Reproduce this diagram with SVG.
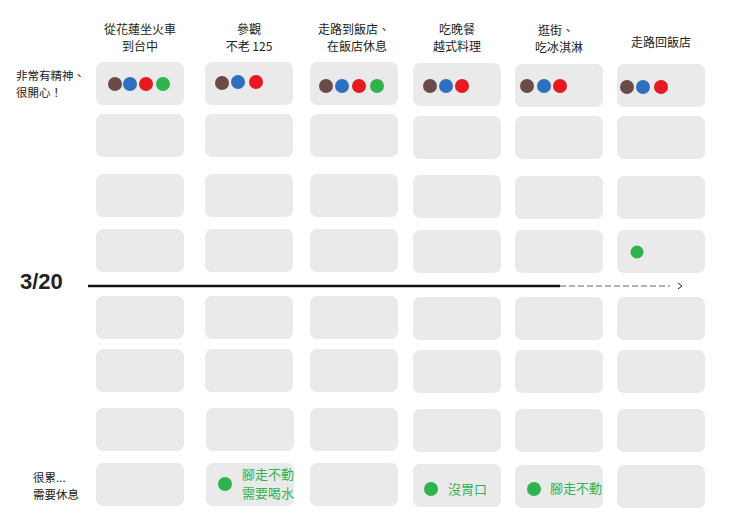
<svg xmlns="http://www.w3.org/2000/svg" width="740" height="523" viewBox="0 0 740 523">
<style>
text{font-family:"Noto Sans CJK TC","Noto Sans",sans-serif;fill:#222}
.h{font-size:12px;text-anchor:middle}
.l{font-size:11.5px}
.c{fill:#eaeaea;rx:7}
.g{fill:#2fb350;font-size:13px}
.br{fill:#6b4a4a}.bl{fill:#2f6fbf}.rd{fill:#e5191f}.gr{fill:#2fb350}
</style>
<rect width="740" height="523" fill="#fff"/>
<g id="headers">
<text class="h" x="140" y="34">從花蓮坐火車</text><text class="h" x="140" y="51">到台中</text>
<text class="h" x="249" y="34">參觀</text><text class="h" x="249" y="51">不老 125</text>
<text class="h" x="354" y="34">走路到飯店、</text><text class="h" x="357" y="51">在飯店休息</text>
<text class="h" x="457" y="34">吃晚餐</text><text class="h" x="457" y="51">越式料理</text>
<text class="h" x="556" y="35">逛街、</text><text class="h" x="559" y="52">吃冰淇淋</text>
<text class="h" x="661" y="47">走路回飯店</text>
<text class="l" x="16" y="80">非常有精神、</text><text class="l" x="16" y="97">很開心！</text>
<text class="l" x="33" y="482">很累...</text><text class="l" x="33" y="499">需要休息</text>
</g>
<g id="cells">
<rect class="c" x="96" y="62" width="88" height="43"/><rect class="c" x="205" y="62" width="88" height="43"/><rect class="c" x="310" y="62" width="88" height="43"/><rect class="c" x="413" y="63" width="88" height="43"/><rect class="c" x="515" y="64" width="88" height="43"/><rect class="c" x="617" y="64" width="88" height="43"/>
<rect class="c" x="96" y="114" width="88" height="43"/><rect class="c" x="205" y="114" width="88" height="43"/><rect class="c" x="310" y="114" width="88" height="43"/><rect class="c" x="413" y="116" width="88" height="43"/><rect class="c" x="515" y="116" width="88" height="43"/><rect class="c" x="617" y="116" width="88" height="43"/>
<rect class="c" x="96" y="174" width="88" height="43"/><rect class="c" x="205" y="174" width="88" height="43"/><rect class="c" x="310" y="174" width="88" height="43"/><rect class="c" x="413" y="175" width="88" height="43"/><rect class="c" x="515" y="176" width="88" height="43"/><rect class="c" x="617" y="176" width="88" height="43"/>
<rect class="c" x="96" y="229" width="88" height="43"/><rect class="c" x="205" y="229" width="88" height="43"/><rect class="c" x="310" y="229" width="88" height="43"/><rect class="c" x="413" y="230" width="88" height="43"/><rect class="c" x="515" y="230" width="88" height="43"/><rect class="c" x="617" y="230" width="88" height="43"/>
<rect class="c" x="96" y="296" width="88" height="43"/><rect class="c" x="205" y="296" width="88" height="43"/><rect class="c" x="310" y="296" width="88" height="43"/><rect class="c" x="413" y="297" width="88" height="43"/><rect class="c" x="515" y="297" width="88" height="43"/><rect class="c" x="617" y="297" width="88" height="43"/>
<rect class="c" x="96" y="349" width="88" height="43"/><rect class="c" x="205" y="349" width="88" height="43"/><rect class="c" x="310" y="349" width="88" height="43"/><rect class="c" x="413" y="350" width="88" height="43"/><rect class="c" x="515" y="350" width="88" height="43"/><rect class="c" x="617" y="350" width="88" height="43"/>
<rect class="c" x="96" y="408" width="88" height="43"/><rect class="c" x="206" y="408" width="88" height="43"/><rect class="c" x="310" y="408" width="88" height="43"/><rect class="c" x="413" y="409" width="88" height="43"/><rect class="c" x="515" y="409" width="88" height="43"/><rect class="c" x="617" y="409" width="88" height="43"/>
<rect class="c" x="96" y="463" width="88" height="43"/><rect class="c" x="206" y="463" width="88" height="43"/><rect class="c" x="310" y="463" width="88" height="43"/><rect class="c" x="413" y="464" width="88" height="43"/><rect class="c" x="515" y="465" width="88" height="43"/><rect class="c" x="617" y="465" width="88" height="43"/>
</g>
<g id="dots">
<circle class="br" cx="115" cy="84" r="7"/><circle class="bl" cx="130" cy="84" r="7"/><circle class="rd" cx="146" cy="84" r="7"/><circle class="gr" cx="163" cy="84" r="7"/>
<circle class="br" cx="222" cy="83" r="7"/><circle class="bl" cx="238" cy="82" r="7"/><circle class="rd" cx="256" cy="82" r="7"/>
<circle class="br" cx="326" cy="86" r="7"/><circle class="bl" cx="342" cy="86" r="7"/><circle class="rd" cx="359" cy="86" r="7"/><circle class="gr" cx="377" cy="86" r="7"/>
<circle class="br" cx="430" cy="86" r="7"/><circle class="bl" cx="446" cy="86" r="7"/><circle class="rd" cx="462" cy="86" r="7"/>
<circle class="br" cx="527" cy="86" r="7"/><circle class="bl" cx="544" cy="86" r="7"/><circle class="rd" cx="560" cy="86" r="7"/>
<circle class="br" cx="627" cy="87" r="7"/><circle class="bl" cx="643" cy="87" r="7"/><circle class="rd" cx="661" cy="87" r="7"/>
<circle class="gr" cx="637" cy="252" r="6.5"/>
<circle class="gr" cx="225" cy="484" r="7"/><text class="g" x="242" y="479">腳走不動</text><text class="g" x="242" y="498">需要喝水</text>
<circle class="gr" cx="431" cy="489" r="7"/><text class="g" x="448" y="494">沒胃口</text>
<circle class="gr" cx="534" cy="489" r="7"/><text class="g" x="550" y="493">腳走不動</text>
</g>
<g id="connectors">
<text x="20" y="289" font-family="'Liberation Sans',sans-serif" font-weight="bold" font-size="22" style="font-family:'Liberation Sans',sans-serif">3/20</text>
<path d="M88 286 L560 286" stroke="#111" stroke-width="2.5" fill="none"/>
<path d="M560 286 L670 286" stroke="#666" stroke-width="1" stroke-dasharray="6 3" fill="none"/>
<path d="M678 283 L682 286 L678 289" stroke="#222" stroke-width="1" fill="none"/>
</g>
</svg>
